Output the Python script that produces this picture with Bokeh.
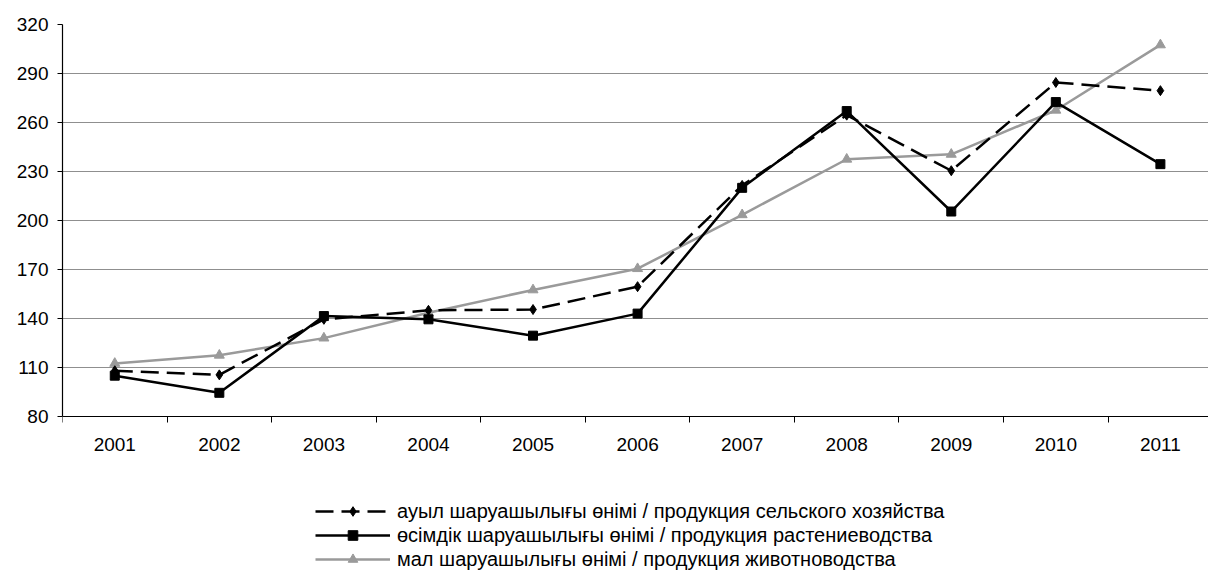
from bokeh.plotting import figure
from bokeh.models import Range1d, FixedTicker, Legend, LegendItem, ColumnDataSource
from bokeh.embed import file_html
from bokeh.resources import INLINE

years = [2001, 2002, 2003, 2004, 2005, 2006, 2007, 2008, 2009, 2010, 2011]
agri = [108, 105.5, 139.5, 145, 145.5, 159.5, 221.5, 264.5, 230.5, 284.5, 279.5]
crop = [105, 94.5, 141.5, 139.5, 129.5, 143, 220, 267, 205.5, 272.5, 234.5]
live = [112.5, 117.5, 128, 143.5, 157.5, 170.5, 203.5, 237.5, 240.5, 267.5, 307.5]
y_ticks = [80, 110, 140, 170, 200, 230, 260, 290, 320]
labels = [
    "ауыл шаруашылығы өнімі / продукция сельского хозяйства",
    "өсімдік шаруашылығы өнімі / продукция растениеводства",
    "мал шаруашылығы өнімі / продукция животноводства",
]

FONT = "Liberation Sans"
GRAY = "#9a9a9a"

# frame spans the whole lower area; the value axis stops at 80, the legend sits below it
p = figure(width=1208, height=572, output_backend="svg", toolbar_location=None,
           x_range=Range1d(2000.5, 2011.46), y_range=Range1d(-15.5, 320),
           min_border_left=62, min_border_right=0, min_border_top=24, min_border_bottom=0)
p.outline_line_color = None
p.background_fill_color = "white"
p.border_fill_color = "white"

src = ColumnDataSource(dict(x=years, agri=agri, crop=crop, live=live))

r_live_l = p.line("x", "live", source=src, line_color=GRAY, line_width=2.5)
r_live_m = p.scatter("x", "live", source=src, marker="triangle", size=10,
                     fill_color=GRAY, line_color=GRAY)
r_crop_l = p.line("x", "crop", source=src, line_color="black", line_width=2.5)
r_crop_m = p.scatter("x", "crop", source=src, marker="square", size=9,
                     fill_color="black", line_color="black")
r_agri_l = p.line("x", "agri", source=src, line_color="black", line_width=2.5,
                  line_dash="18 8")
r_agri_m = p.scatter("x", "agri", source=src, marker="diamond", size=10,
                     fill_color="black", line_color="black")

# axes
xa = p.xaxis[0]
xa.fixed_location = y_ticks[0]
xa.ticker = FixedTicker(ticks=years, minor_ticks=[y - 0.5 for y in years] + [years[-1] + 0.5])
xa.major_tick_line_color = None
xa.major_tick_out = 6
xa.minor_tick_out = 6
xa.minor_tick_in = 0
xa.minor_tick_line_color = "black"
xa.major_label_standoff = 15
xa.axis_line_color = "black"
xa.axis_line_width = 1.2
xa.major_label_text_font = FONT
xa.major_label_text_font_size = "19px"
xa.major_label_text_color = "black"

ya = p.yaxis[0]
ya.bounds = (y_ticks[0], y_ticks[-1])
ya.ticker = FixedTicker(ticks=y_ticks, minor_ticks=[])
ya.major_tick_out = 5
ya.major_tick_in = 0
ya.major_tick_line_color = "black"
ya.major_label_standoff = 9
ya.axis_line_color = "black"
ya.axis_line_width = 1.2
ya.major_label_text_font = FONT
ya.major_label_text_font_size = "19px"
ya.major_label_text_color = "black"

p.xgrid.grid_line_color = None
p.ygrid.ticker = FixedTicker(ticks=y_ticks[1:-1])
p.ygrid.grid_line_color = "#8f8f8f"
p.ygrid.grid_line_width = 1

legend = Legend(items=[
    LegendItem(label=labels[0], renderers=[r_agri_l, r_agri_m]),
    LegendItem(label=labels[1], renderers=[r_crop_l, r_crop_m]),
    LegendItem(label=labels[2], renderers=[r_live_l, r_live_m]),
], location=(253, 1))
legend.border_line_color = None
legend.background_fill_alpha = 0
legend.padding = 0
legend.margin = 0
legend.spacing = 0
legend.glyph_width = 75
legend.glyph_height = 24
legend.label_height = 24
legend.label_standoff = 7
legend.label_text_font = FONT
legend.label_text_font_size = "20px"
legend.label_text_color = "black"
p.add_layout(legend, "center")

open("out.html", "w").write(file_html(p, INLINE))
